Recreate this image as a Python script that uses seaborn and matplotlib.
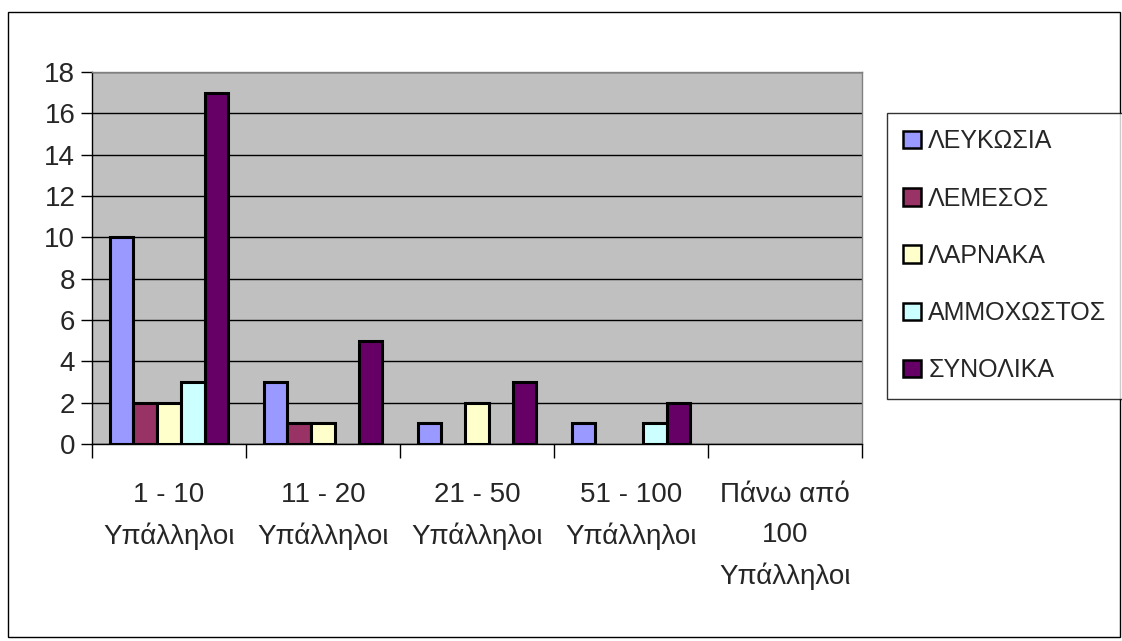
import numpy as np
import pandas as pd
import matplotlib
matplotlib.use("Agg")
import matplotlib.pyplot as plt
import seaborn as sns
from matplotlib.patches import Rectangle

# ---- data ----
categories = ["1 - 10\nΥπάλληλοι", "11 - 20\nΥπάλληλοι", "21 - 50\nΥπάλληλοι",
              "51 - 100\nΥπάλληλοι", "Πάνω από\n100\nΥπάλληλοι"]
series = ["ΛΕΥΚΩΣΙΑ", "ΛΕΜΕΣΟΣ", "ΛΑΡΝΑΚΑ", "ΑΜΜΟΧΩΣΤΟΣ", "ΣΥΝΟΛΙΚΑ"]
lefkosia = [10, 3, 1, 1, 0]
lemesos = [2, 1, 0, 0, 0]
larnaka = [2, 1, 2, 0, 0]
ammochostos = [3, 0, 0, 1, 0]
synolika = [17, 5, 3, 2, 0]
colors = ["#9999FF", "#993366", "#FFFFCC", "#CCFFFF", "#660066"]

df = pd.DataFrame({
    "category": categories * 5,
    "series": np.repeat(series, len(categories)),
    "value": lefkosia + lemesos + larnaka + ammochostos + synolika,
})

sns.set_style("white")
plt.rcParams["font.family"] = ["Liberation Sans", "DejaVu Sans"]

fig = plt.figure(figsize=(11.22, 6.41), dpi=100)
ax = fig.add_axes([92 / 1122, 1 - 444 / 641, 770 / 1122, 372 / 641])
ax.set_facecolor("#C0C0C0")

sns.barplot(data=df, x="category", y="value", hue="series", palette=colors,
            width=0.77, edgecolor="black", linewidth=2.2, ax=ax, legend=False,
            saturation=1)
# Excel draws nothing for zero values
for p in ax.patches:
    if p.get_height() == 0:
        p.set_visible(False)

ax.set_ylim(0, 18)
ax.set_xlim(-0.5, 4.5)
ax.set_yticks(range(0, 19, 2))
ax.yaxis.grid(True, color="black", linewidth=1)
ax.set_axisbelow(True)
ax.set_xlabel("")
ax.set_ylabel("")

# category boundaries as major ticks, labels on minor ticks
ax.set_xticks(np.arange(-0.5, 5, 1))
ax.set_xticklabels([])
ax.set_xticks(range(5), minor=True)
ax.set_xticklabels(categories, minor=True, fontsize=20, linespacing=1.7)
ax.tick_params(axis="x", which="minor", length=0, pad=27)
ax.tick_params(axis="x", which="major", length=10, width=1, color="black", direction="out")
ax.tick_params(axis="y", length=8, width=1, color="black", direction="out", labelsize=20, pad=4)
ax.tick_params(bottom=True, left=True)

for side in ["top", "right"]:
    ax.spines[side].set_color("#808080")
    ax.spines[side].set_linewidth(1)
for side in ["left", "bottom"]:
    ax.spines[side].set_color("black")
    ax.spines[side].set_linewidth(1)

# legend
handles = [Rectangle((0, 0), 1, 1, facecolor=c, edgecolor="black", linewidth=1.8) for c in colors]
leg = fig.legend(handles, series, loc="upper left", bbox_to_anchor=(887 / 1122, 1 - 113 / 641),
                 fontsize=18, frameon=True, fancybox=False, handlelength=0.7, handleheight=0.7,
                 handletextpad=0.3, labelspacing=1.33, borderpad=0.65, borderaxespad=0)
leg.get_frame().set_edgecolor("black")
leg.get_frame().set_linewidth(1)

# outer chart border
fig.patches.append(Rectangle((8 / 1122, 4 / 641), 1112 / 1122, 625 / 641, transform=fig.transFigure,
                             fill=False, edgecolor="black", linewidth=1))

fig.savefig("out.png", dpi=100)
